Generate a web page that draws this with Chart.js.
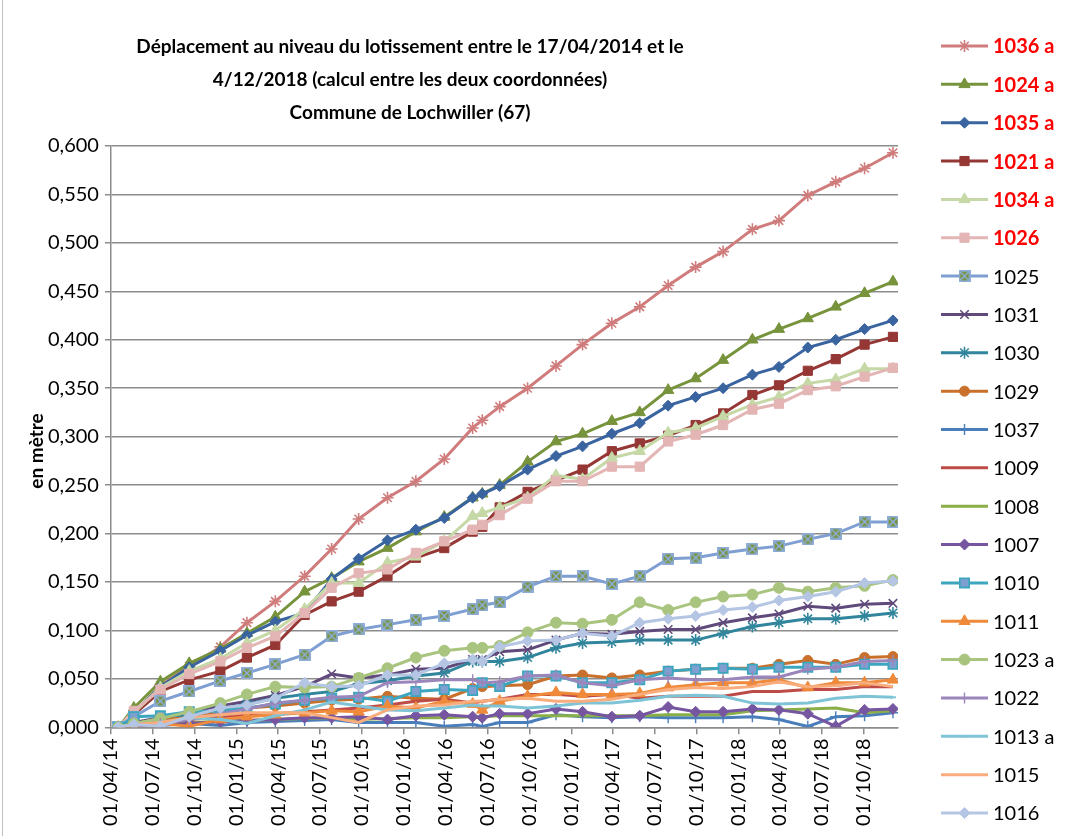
<!DOCTYPE html>
<html lang="fr">
<head>
<meta charset="UTF-8">
<title>Déplacement lotissement Lochwiller</title>
<script src="https://cdn.jsdelivr.net/npm/chart.js"></script>
<style>
    html, body { margin: 0; padding: 0; background: #fff; }
    #cadre { width: 1068px; height: 836px; position: relative; }
</style>
</head>
<body>
<div id="cadre"><canvas id="graphique" width="1068" height="836"></canvas></div>

<script>
    // dates des mesures (jj/mm/aaaa)
    const dates = ['17/04/2014', '21/05/2014', '18/07/2014', '19/09/2014', '26/11/2014', '23/01/2015',
        '26/03/2015', '29/05/2015', '27/07/2015', '24/09/2015', '26/11/2015', '27/01/2016',
        '29/03/2016', '30/05/2016', '20/06/2016', '28/07/2016', '27/09/2016', '28/11/2016',
        '25/01/2017', '30/03/2017', '30/05/2017', '31/07/2017', '29/09/2017', '28/11/2017',
        '31/01/2018', '30/03/2018', '01/06/2018', '01/08/2018', '03/10/2018', '04/12/2018'];

    // graduations de l'axe des dates
    const etiquettesX = ['01/04/14', '01/07/14', '01/10/14', '01/01/15', '01/04/15', '01/07/15', '01/10/15',
        '01/01/16', '01/04/16', '01/07/16', '01/10/16', '01/01/17', '01/04/17', '01/07/17', '01/10/17',
        '01/01/18', '01/04/18', '01/07/18', '01/10/18'];
    const debutAxe = '01/04/2014';
    const finAxe = '15/12/2018';

    const etiquettesY = [0, 0.05, 0.1, 0.15, 0.2, 0.25, 0.3, 0.35, 0.4, 0.45, 0.5, 0.55, 0.6];

    const noms = ['1036 a', '1024 a', '1035 a', '1021 a', '1034 a', '1026', '1025', '1031', '1030', '1029', '1037',
        '1009', '1008', '1007', '1010', '1011', '1023 a', '1022', '1013 a', '1015', '1016'];

    // déplacements en mètre
    const v1036 = [0, 0.014, 0.043, 0.063, 0.083, 0.108, 0.130, 0.156, 0.184, 0.215, 0.237, 0.254, 0.277, 0.309, 0.317, 0.331, 0.350, 0.373, 0.395, 0.417, 0.434, 0.456, 0.475, 0.491, 0.514, 0.523, 0.549, 0.563, 0.577, 0.593];
    const v1024 = [0, 0.020, 0.047, 0.066, 0.081, 0.097, 0.114, 0.140, 0.154, 0.171, 0.185, 0.202, 0.217, 0.237, 0.241, 0.250, 0.274, 0.295, 0.303, 0.316, 0.325, 0.348, 0.360, 0.379, 0.400, 0.411, 0.422, 0.434, 0.448, 0.460];
    const v1035 = [0, 0.015, 0.042, 0.062, 0.079, 0.095, 0.109, 0.118, 0.153, 0.174, 0.193, 0.204, 0.216, 0.237, 0.241, 0.249, 0.266, 0.280, 0.290, 0.303, 0.314, 0.332, 0.341, 0.350, 0.364, 0.372, 0.392, 0.400, 0.411, 0.420];
    const v1021 = [0, 0.013, 0.037, 0.049, 0.058, 0.072, 0.085, 0.116, 0.130, 0.140, 0.156, 0.175, 0.185, 0.202, 0.207, 0.227, 0.243, 0.255, 0.266, 0.285, 0.293, 0.301, 0.312, 0.324, 0.343, 0.353, 0.368, 0.380, 0.395, 0.403];
    const v1034 = [0, 0.015, 0.041, 0.058, 0.071, 0.087, 0.100, 0.122, 0.149, 0.149, 0.170, 0.176, 0.192, 0.218, 0.221, 0.227, 0.237, 0.260, 0.256, 0.278, 0.285, 0.304, 0.309, 0.321, 0.333, 0.341, 0.355, 0.359, 0.370, 0.370];
    const v1026 = [0, 0.017, 0.039, 0.055, 0.068, 0.082, 0.094, 0.118, 0.144, 0.159, 0.163, 0.180, 0.192, 0.204, 0.209, 0.219, 0.236, 0.254, 0.254, 0.269, 0.269, 0.295, 0.302, 0.312, 0.328, 0.334, 0.348, 0.352, 0.362, 0.371];
    const v1025 = [0, 0.011, 0.027, 0.037, 0.048, 0.056, 0.065, 0.075, 0.094, 0.101, 0.106, 0.111, 0.115, 0.122, 0.126, 0.129, 0.145, 0.156, 0.156, 0.148, 0.156, 0.174, 0.175, 0.180, 0.184, 0.187, 0.194, 0.200, 0.212, 0.212];
    const v1031 = [0, 0.005, 0.010, 0.016, 0.022, 0.027, 0.033, 0.042, 0.055, 0.051, 0.054, 0.060, 0.061, 0.070, 0.070, 0.078, 0.080, 0.090, 0.097, 0.096, 0.099, 0.101, 0.101, 0.108, 0.113, 0.117, 0.125, 0.123, 0.127, 0.128];
    const v1030 = [0, 0.004, 0.008, 0.013, 0.018, 0.024, 0.030, 0.034, 0.037, 0.045, 0.048, 0.053, 0.056, 0.068, 0.068, 0.068, 0.072, 0.082, 0.087, 0.088, 0.090, 0.090, 0.090, 0.097, 0.104, 0.108, 0.112, 0.112, 0.115, 0.118];
    const v1029 = [0, 0.004, 0.008, 0.010, 0.015, 0.020, 0.022, 0.025, 0.028, 0.029, 0.032, 0.030, 0.029, 0.040, 0.042, 0.043, 0.044, 0.053, 0.054, 0.051, 0.054, 0.058, 0.060, 0.061, 0.061, 0.065, 0.069, 0.065, 0.072, 0.073];
    const v1037 = [0, 0.003, 0.002, 0.004, 0.002, 0.005, 0.006, 0.007, 0.008, 0.005, 0.005, 0.005, 0.001, 0.003, 0.001, 0.005, 0.005, 0.013, 0.011, 0.010, 0.011, 0.010, 0.010, 0.010, 0.011, 0.008, 0.001, 0.011, 0.012, 0.015];
    const v1009 = [0, 0.003, 0.005, 0.008, 0.011, 0.013, 0.014, 0.016, 0.018, 0.020, 0.023, 0.027, 0.029, 0.025, 0.027, 0.029, 0.034, 0.034, 0.032, 0.034, 0.030, 0.032, 0.032, 0.032, 0.037, 0.037, 0.039, 0.039, 0.042, 0.042];
    const v1008 = [0, 0.002, 0.004, 0.005, 0.006, 0.007, 0.008, 0.009, 0.010, 0.008, 0.009, 0.010, 0.010, 0.011, 0.011, 0.012, 0.012, 0.012, 0.012, 0.012, 0.012, 0.013, 0.013, 0.013, 0.017, 0.018, 0.019, 0.020, 0.015, 0.017];
    const v1007 = [0, 0.002, 0.003, 0.004, 0.006, 0.007, 0.008, 0.010, 0.010, 0.011, 0.008, 0.012, 0.013, 0.011, 0.010, 0.014, 0.014, 0.019, 0.016, 0.011, 0.012, 0.021, 0.016, 0.016, 0.019, 0.018, 0.014, 0.001, 0.018, 0.019];
    const v1010 = [0, 0.011, 0.012, 0.016, 0.017, 0.020, 0.024, 0.028, 0.030, 0.031, 0.027, 0.037, 0.039, 0.038, 0.046, 0.042, 0.053, 0.053, 0.046, 0.046, 0.049, 0.058, 0.060, 0.061, 0.060, 0.062, 0.062, 0.062, 0.065, 0.065];
    const v1011 = [0, 0.002, 0.004, 0.001, 0.008, 0.011, 0.013, 0.015, 0.017, 0.016, 0.022, 0.020, 0.027, 0.024, 0.018, 0.027, 0.032, 0.036, 0.034, 0.034, 0.035, 0.041, 0.044, 0.046, 0.046, 0.049, 0.041, 0.046, 0.046, 0.049];
    const v1023 = [0, 0.004, 0.009, 0.016, 0.025, 0.034, 0.042, 0.041, 0.042, 0.051, 0.061, 0.072, 0.079, 0.082, 0.082, 0.084, 0.098, 0.108, 0.107, 0.111, 0.129, 0.121, 0.129, 0.135, 0.137, 0.144, 0.140, 0.144, 0.146, 0.152];
    const v1022 = [0, 0.002, 0.004, 0.008, 0.014, 0.019, 0.025, 0.028, 0.031, 0.032, 0.046, 0.047, 0.049, 0.049, 0.046, 0.047, 0.053, 0.054, 0.046, 0.043, 0.049, 0.051, 0.049, 0.049, 0.052, 0.052, 0.060, 0.062, 0.068, 0.069];
    const v1013 = [0, 0.003, 0.005, 0.010, 0.008, 0.004, 0.012, 0.018, 0.026, 0.022, 0.018, 0.017, 0.020, 0.023, 0.022, 0.022, 0.020, 0.022, 0.025, 0.025, 0.028, 0.032, 0.033, 0.032, 0.025, 0.024, 0.025, 0.030, 0.032, 0.031];
    const v1015 = [0, 0.003, 0.005, 0.010, 0.013, 0.015, 0.015, 0.015, 0.010, 0.005, 0.018, 0.022, 0.023, 0.027, 0.027, 0.029, 0.030, 0.027, 0.027, 0.029, 0.034, 0.039, 0.041, 0.040, 0.042, 0.047, 0.042, 0.043, 0.046, 0.042];
    const v1016 = [0, 0.003, 0.001, 0.011, 0.020, 0.023, 0.030, 0.046, 0.042, 0.043, 0.054, 0.054, 0.066, 0.070, 0.068, 0.083, 0.089, 0.090, 0.097, 0.094, 0.108, 0.112, 0.115, 0.121, 0.124, 0.131, 0.135, 0.140, 0.149, 0.151];

    const valeurs = [v1036, v1024, v1035, v1021, v1034, v1026, v1025, v1031, v1030, v1029, v1037,
        v1009, v1008, v1007, v1010, v1011, v1023, v1022, v1013, v1015, v1016];

    // jours depuis le 01/04/2014
    function jour(texte) {
        let p = texte.split('/');
        let annee = Number(p[2]);
        if (annee < 100) annee += 2000;
        return (Date.UTC(annee, Number(p[1]) - 1, Number(p[0])) - Date.UTC(2014, 3, 1)) / 86400000;
    }

    // marqueur carré avec croix (série 1025)
    function carreCroix() {
        let c = document.createElement('canvas');
        c.width = 12; c.height = 12;
        let g = c.getContext('2d');
        g.fillStyle = '#77933C';
        g.fillRect(0, 0, 12, 12);
        g.strokeStyle = '#8FAEDD';
        g.lineWidth = 1.6;
        g.strokeRect(0.8, 0.8, 10.4, 10.4);
        g.beginPath();
        g.moveTo(1.5, 1.5); g.lineTo(10.5, 10.5);
        g.moveTo(10.5, 1.5); g.lineTo(1.5, 10.5);
        g.stroke();
        return c;
    }

    // style de chaque série : couleur du trait, marqueur, remplissage, rayon
    const styles = [
        { trait: '#D07C7C', forme: 'star', fond: '#D07C7C', r: 6, bord: 1.6 },
        { trait: '#77933C', forme: 'triangle', fond: '#77933C', r: 6.5, bord: 1 },
        { trait: '#3A64A0', forme: 'rectRot', fond: '#3A64A0', r: 5.5, bord: 1 },
        { trait: '#953735', forme: 'rect', fond: '#953735', r: 6.5, bord: 1 },
        { trait: '#C5D8A6', forme: 'triangle', fond: '#C5D8A6', r: 6.5, bord: 1 },
        { trait: '#E3B5B4', forme: 'rect', fond: '#E3B5B4', r: 6.5, bord: 1 },
        { trait: '#7F9FD3', forme: carreCroix(), fond: '#77933C', r: 6, bord: 1 },
        { trait: '#604A7B', forme: 'crossRot', fond: '#604A7B', r: 6, bord: 1.6 },
        { trait: '#31859C', forme: 'star', fond: '#31859C', r: 6, bord: 1.6 },
        { trait: '#C8702C', forme: 'circle', fond: '#C8702C', r: 5, bord: 1 },
        { trait: '#4A7EBB', forme: 'cross', fond: '#4A7EBB', r: 5.5, bord: 1.4 },
        { trait: '#BE4B48', forme: 'circle', fond: '#BE4B48', r: 0, bord: 0 },
        { trait: '#8AAE48', forme: 'line', fond: '#8AAE48', r: 3, bord: 2 },
        { trait: '#7656A0', forme: 'rectRot', fond: '#7656A0', r: 5.5, bord: 1 },
        { trait: '#3DA6BF', forme: 'rect', fond: '#7F9FD0', r: 6.5, bord: 1.8 },
        { trait: '#EE8A3A', forme: 'triangle', fond: '#EE8A3A', r: 6.5, bord: 1 },
        { trait: '#A9C47F', forme: 'circle', fond: '#A9C47F', r: 5.5, bord: 1 },
        { trait: '#9B86BC', forme: 'cross', fond: '#9B86BC', r: 5.5, bord: 1.4 },
        { trait: '#7FC4D6', forme: 'line', fond: '#7FC4D6', r: 3, bord: 2 },
        { trait: '#F9AC7C', forme: 'circle', fond: '#F9AC7C', r: 0, bord: 0 },
        { trait: '#B4C6E4', forme: 'rectRot', fond: '#B4C6E4', r: 5.5, bord: 1 }
    ];

    const jours = dates.map(jour);
    const joursTicks = etiquettesX.map(jour);

    let series = [];
    for (let i = 0; i < noms.length; i++) {
        let st = styles[i];
        series.push({
            label: noms[i],
            data: jours.map(function (j, k) { return { x: j, y: valeurs[i][k] }; }),
            borderColor: st.trait,
            backgroundColor: st.fond,
            borderWidth: 3,
            pointStyle: st.forme,
            pointRadius: st.r,
            pointBorderWidth: st.bord,
            pointBorderColor: st.trait,
            pointBackgroundColor: st.fond,
            tension: 0,
            order: noms.length - i
        });
    }

    const police = 'Lato, "Liberation Sans", sans-serif';

    // titre, légende et titre d'axe dessinés à la main
    const decor = {
        id: 'decor',
        afterDraw: function (chart) {
            const ctx = chart.ctx;
            ctx.save();

            ctx.strokeStyle = '#bfbfbf';
            ctx.lineWidth = 1;
            ctx.beginPath();
            ctx.moveTo(2.5, 0);
            ctx.lineTo(2.5, 836);
            ctx.stroke();

            ctx.fillStyle = '#000';
            ctx.textAlign = 'center';
            ctx.textBaseline = 'middle';
            ctx.font = 'bold 19px ' + police;
            ctx.fillText('Déplacement au niveau du lotissement entre le 17/04/2014 et le', 410, 47);
            ctx.fillText('4/12/2018 (calcul entre les deux coordonnées)', 410, 80);
            ctx.fillText('Commune de Lochwiller (67)', 410, 113);

            ctx.save();
            ctx.translate(37, 451);
            ctx.rotate(-Math.PI / 2);
            ctx.font = 'bold 19px ' + police;
            ctx.fillText('en mètre', 0, 0);
            ctx.restore();

            for (let i = 0; i < noms.length; i++) {
                let st = styles[i];
                let y = 46 + i * 38.35;
                ctx.strokeStyle = st.trait;
                ctx.lineWidth = 3;
                ctx.beginPath();
                ctx.moveTo(941, y);
                ctx.lineTo(988, y);
                ctx.stroke();
                if (st.r > 0 && Chart.helpers && Chart.helpers.drawPoint) {
                    ctx.fillStyle = st.fond;
                    ctx.strokeStyle = st.trait;
                    ctx.lineWidth = st.bord;
                    Chart.helpers.drawPoint(ctx, { pointStyle: st.forme, radius: st.r, rotation: 0, borderWidth: st.bord }, 964.5, y);
                }
                ctx.textAlign = 'left';
                if (i < 6) {
                    ctx.fillStyle = '#FF0000';
                    ctx.font = 'bold 20px ' + police;
                } else {
                    ctx.fillStyle = '#000';
                    ctx.font = '20px ' + police;
                }
                ctx.fillText(noms[i], 993, y + 1);
            }
            ctx.restore();
        }
    };

    new Chart(document.getElementById('graphique'), {
        type: 'line',
        data: { datasets: series },
        options: {
            responsive: false,
            animation: false,
            layout: { padding: { left: 42, top: 146, right: 170, bottom: 6 } },
            plugins: {
                legend: { display: false },
                title: { display: false },
                tooltip: { enabled: false }
            },
            scales: {
                x: {
                    type: 'linear',
                    min: jour(debutAxe),
                    max: jour(finAxe),
                    afterBuildTicks: function (axe) {
                        axe.ticks = joursTicks.map(function (v) { return { value: v }; });
                    },
                    ticks: {
                        autoSkip: false,
                        maxRotation: 90,
                        minRotation: 90,
                        color: '#000',
                        font: { family: police, size: 20 },
                        padding: 4,
                        callback: function (v) {
                            let k = joursTicks.indexOf(v);
                            return k >= 0 ? etiquettesX[k] : '';
                        }
                    },
                    grid: { drawOnChartArea: false, tickLength: 7, color: '#8c8c8c', lineWidth: 1.5 },
                    border: { color: '#8c8c8c', width: 1.5 }
                },
                y: {
                    min: etiquettesY[0],
                    max: etiquettesY[etiquettesY.length - 1],
                    afterBuildTicks: function (axe) {
                        axe.ticks = etiquettesY.map(function (v) { return { value: v }; });
                    },
                    ticks: {
                        color: '#000',
                        font: { family: police, size: 20 },
                        padding: 6,
                        callback: function (v) { return v.toFixed(3).replace('.', ','); }
                    },
                    grid: { color: '#8c8c8c', lineWidth: 1.5, tickLength: 6 },
                    border: { color: '#8c8c8c', width: 1.5 }
                }
            }
        },
        plugins: [decor]
    });
</script>
</body>
</html>
